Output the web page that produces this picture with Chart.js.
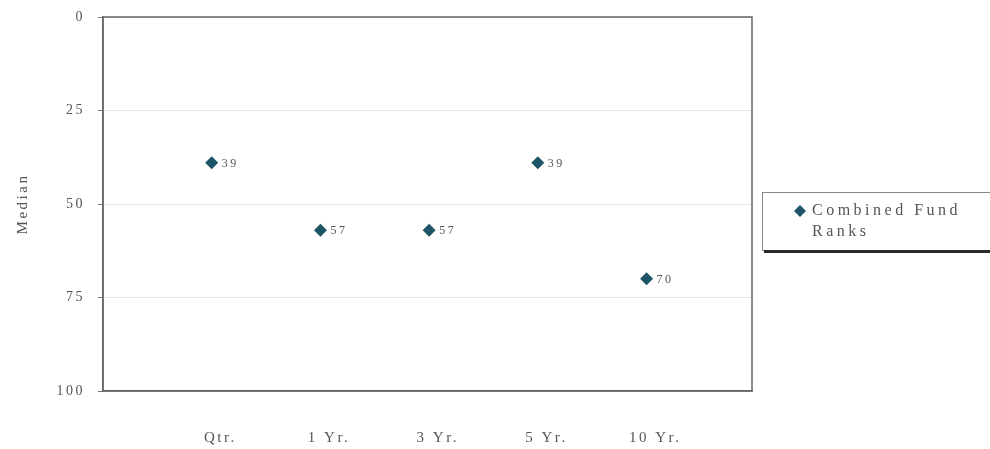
<!DOCTYPE html>
<html>
<head>
<meta charset="utf-8">
<script src="https://cdn.jsdelivr.net/npm/chart.js@4"></script>
<style>
  html, body { margin: 0; padding: 0; background: #fff; }
  #wrap { width: 990px; height: 449px; position: relative; }
</style>
</head>
<body>
<div id="wrap"><canvas id="c" width="990" height="449"></canvas></div>
<script>
// Periods and median ranks
const categories = ['Qtr.', '1 Yr.', '3 Yr.', '5 Yr.', '10 Yr.'];
const rankValues = [39, 57, 57, 39, 70];
const yTicks = [0, 25, 50, 75, 100];
const seriesName = ['Combined Fund', 'Ranks'];

const MARKER = '#1d5566';
const TEXT = '#555';
const FONT = '"Liberation Serif", "Times New Roman", serif';

const points = rankValues.map((v, i) => ({ x: i + 1, y: v }));

// Letter spacing for the whole canvas, like the original typesetting
const spacing = {
  id: 'spacing',
  beforeInit(chart) { chart.ctx.letterSpacing = '2.5px'; },
  beforeDraw(chart) { chart.ctx.letterSpacing = '2.5px'; }
};

// Frame around the plot area
const frame = {
  id: 'frame',
  afterDraw(chart) {
    const { ctx, chartArea: a } = chart;
    ctx.save();
    ctx.strokeStyle = '#666';
    ctx.lineWidth = 1.5;
    ctx.strokeRect(a.left, a.top, a.right - a.left, a.bottom - a.top);
    ctx.restore();
  }
};

// Value labels next to each marker
const valueLabels = {
  id: 'valueLabels',
  afterDatasetsDraw(chart) {
    const { ctx } = chart;
    const meta = chart.getDatasetMeta(0);
    ctx.save();
    ctx.letterSpacing = '2.5px';
    ctx.font = '12px ' + FONT;
    ctx.fillStyle = TEXT;
    ctx.textAlign = 'left';
    ctx.textBaseline = 'middle';
    meta.data.forEach((el, i) => {
      ctx.fillText(String(rankValues[i]), el.x + 10, el.y + 1);
    });
    ctx.restore();
  }
};

// Legend box on the right
const legendBox = {
  id: 'legendBox',
  afterDraw(chart) {
    const { ctx } = chart;
    const x = 762, y = 192, w = 240, h = 58;
    ctx.save();
    ctx.fillStyle = '#fff';
    ctx.fillRect(x, y, w, h);
    ctx.strokeStyle = '#888';
    ctx.lineWidth = 1;
    ctx.strokeRect(x + 0.5, y + 0.5, w, h);
    ctx.fillStyle = '#2a2a2a';
    ctx.fillRect(x + 2, y + h, w, 3);
    // marker
    const mx = 800, my = 211, r = 6;
    ctx.fillStyle = MARKER;
    ctx.beginPath();
    ctx.moveTo(mx, my - r); ctx.lineTo(mx + r, my); ctx.lineTo(mx, my + r); ctx.lineTo(mx - r, my);
    ctx.closePath(); ctx.fill();
    ctx.letterSpacing = '3.5px';
    ctx.font = '16px ' + FONT;
    ctx.fillStyle = TEXT;
    ctx.textAlign = 'left';
    ctx.textBaseline = 'middle';
    ctx.fillText(seriesName[0], 812, 211);
    ctx.fillText(seriesName[1], 812, 232);
    ctx.restore();
  }
};

new Chart(document.getElementById('c'), {
  type: 'scatter',
  data: {
    datasets: [{
      label: seriesName.join(' '),
      data: points,
      pointStyle: 'rectRot',
      pointRadius: 6.5,
      pointHoverRadius: 6.5,
      backgroundColor: MARKER,
      borderColor: MARKER,
      borderWidth: 0,
      showLine: false
    }]
  },
  options: {
    responsive: false,
    animation: false,
    events: [],
    layout: { padding: { left: 0, top: 17, right: 238, bottom: 0 } },
    plugins: { legend: { display: false }, tooltip: { enabled: false } },
    scales: {
      x: {
        type: 'linear',
        min: 0,
        max: 5.97,
        afterFit(s) { s.height = 449 - 17 - 374; s.paddingLeft = 0; s.paddingRight = 0; },
        // labels sit slightly right of each period's marker
        afterBuildTicks(s) { s.ticks = categories.map((c, i) => ({ value: i + 1.08 })); },
        ticks: {
          callback: (v) => categories[Math.round(v) - 1] || '',
          color: TEXT,
          font: { family: FONT, size: 15 },
          padding: 38,
          maxRotation: 0,
          autoSkip: false
        },
        grid: { display: false, drawTicks: false },
        border: { display: true, color: '#666', width: 1.5 }
      },
      y: {
        reverse: true,
        min: 0,
        max: 100,
        afterFit(s) { s.width = 103; s.paddingTop = 0; s.paddingBottom = 0; },
        afterBuildTicks(s) { s.ticks = yTicks.map(v => ({ value: v })); },
        title: {
          display: true,
          text: 'Median',
          color: TEXT,
          font: { family: FONT, size: 15 },
          padding: { top: 14, bottom: 0 }
        },
        ticks: {
          color: TEXT,
          font: { family: FONT, size: 14 },
          padding: 13
        },
        grid: {
          color: '#e6e6e6',
          lineWidth: 1,
          tickLength: 5,
          tickColor: '#777',
          tickWidth: 1
        },
        border: { display: true, color: '#666', width: 1.5 }
      }
    }
  },
  plugins: [spacing, frame, valueLabels, legendBox]
});
</script>
</body>
</html>
